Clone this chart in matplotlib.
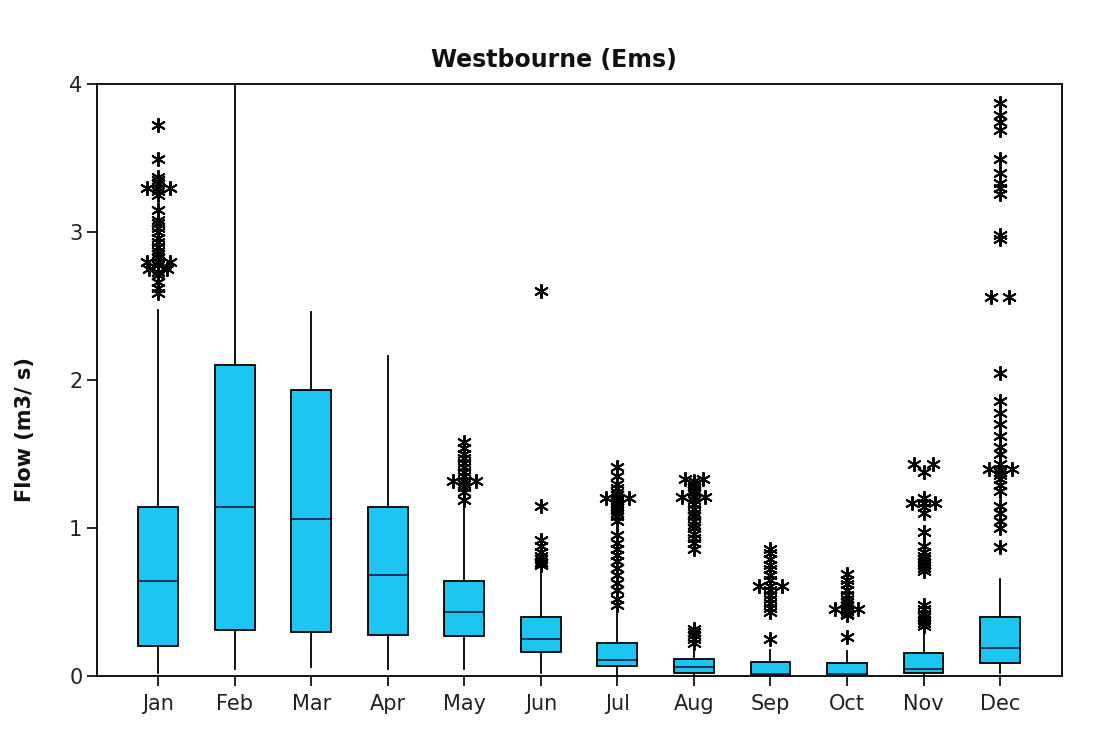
import matplotlib
matplotlib.use("Agg")
import matplotlib.pyplot as plt
import numpy as np

months = ["Jan", "Feb", "Mar", "Apr", "May", "Jun", "Jul", "Aug", "Sep", "Oct", "Nov", "Dec"]
whislo = [0.02, 0.05, 0.06, 0.05, 0.05, 0.02, 0.00, 0.00, 0.00, 0.00, 0.00, 0.02]
q1     = [0.20, 0.31, 0.30, 0.28, 0.27, 0.16, 0.07, 0.02, 0.005, 0.00, 0.02, 0.09]
med    = [0.64, 1.14, 1.06, 0.68, 0.43, 0.25, 0.11, 0.06, 0.01, 0.01, 0.05, 0.19]
q3     = [1.14, 2.10, 1.93, 1.14, 0.64, 0.40, 0.22, 0.115, 0.095, 0.09, 0.155, 0.40]
whishi = [2.47, 4.05, 2.46, 2.16, 1.17, 0.72, 0.45, 0.18, 0.175, 0.17, 0.32, 0.655]

outliers = [
    [2.59, 2.62, 2.66, 2.71, 2.73, 2.75, 2.75, 2.78, 2.80, 2.80, 2.80, 2.83, 2.85, 2.87,
     2.90, 2.93, 2.96, 3.00, 3.03, 3.06, 3.08, 3.15, 3.25, 3.28, 3.30, 3.30, 3.30, 3.33,
     3.35, 3.37, 3.49, 3.72],
    [],
    [],
    [],
    [1.19, 1.24, 1.28, 1.30, 1.32, 1.32, 1.32, 1.35, 1.38, 1.41, 1.44, 1.47, 1.50, 1.54,
     1.58],
    [0.75, 0.76, 0.77, 0.79, 0.81, 0.84, 0.88, 0.92, 1.15, 2.60],
    [0.48, 0.52, 0.58, 0.63, 0.68, 0.73, 0.78, 0.82, 0.86, 0.90, 0.95, 1.05, 1.08, 1.10,
     1.12, 1.14, 1.16, 1.18, 1.20, 1.20, 1.20, 1.22, 1.24, 1.27, 1.30, 1.35, 1.41],
    [0.22, 0.25, 0.28, 0.30, 0.32, 0.86, 0.90, 0.93, 0.96, 1.00, 1.02, 1.05, 1.08, 1.10,
     1.13, 1.16, 1.19, 1.21, 1.21, 1.21, 1.24, 1.26, 1.28, 1.30, 1.32, 1.33, 1.33],
    [0.25, 0.43, 0.46, 0.49, 0.52, 0.55, 0.58, 0.61, 0.61, 0.61, 0.65, 0.68, 0.72, 0.75,
     0.79, 0.83, 0.86],
    [0.26, 0.41, 0.42, 0.44, 0.45, 0.45, 0.45, 0.47, 0.48, 0.50, 0.52, 0.55, 0.58, 0.62,
     0.65, 0.69],
    [0.34, 0.36, 0.38, 0.40, 0.42, 0.45, 0.48, 0.71, 0.73, 0.75, 0.77, 0.79, 0.81, 0.84,
     0.88, 0.97, 1.10, 1.14, 1.17, 1.17, 1.17, 1.20, 1.38, 1.43, 1.43],
    [0.87, 1.00, 1.05, 1.10, 1.15, 1.25, 1.29, 1.33, 1.36, 1.38, 1.40, 1.40, 1.40, 1.43,
     1.50, 1.55, 1.62, 1.70, 1.78, 1.86, 2.05, 2.56, 2.56, 2.95, 2.98, 3.26, 3.30, 3.33,
     3.40, 3.49, 3.69, 3.74, 3.79, 3.87],
]

box_color = "#1DC6F1"

fig = plt.figure(figsize=(10.96, 7.33), dpi=100)
ax = fig.add_axes([0.0885, 0.0778, 0.8805, 0.8076])

positions = np.arange(1, len(months) + 1)
stats = []
for i in range(len(months)):
    stats.append(dict(med=med[i], q1=q1[i], q3=q3[i], whislo=whislo[i], whishi=whishi[i],
                      fliers=[], label=months[i]))

ax.bxp(stats, positions=positions, widths=0.52, patch_artist=True, showcaps=False,
       showfliers=False,
       boxprops=dict(facecolor=box_color, edgecolor="black", linewidth=1.3),
       medianprops=dict(color="#1a1a3a", linewidth=1.2),
       whiskerprops=dict(color="black", linewidth=1.3))

# outliers: identical values are placed side by side, symmetric about the box centre
thr = 0.004
for i, vals in enumerate(outliers):
    vals = sorted(vals)
    xs, ys = [], []
    j = 0
    while j < len(vals):
        n = 1
        while j + n < len(vals) and abs(vals[j + n] - vals[j]) < thr:
            n += 1
        step = 0.24 if n == 2 else 0.15
        offs = (np.arange(n) - (n - 1) / 2.0) * step
        for k in range(n):
            xs.append(positions[i] + offs[k])
            ys.append(vals[j + k])
        j += n
    ax.plot(xs, ys, linestyle="none", marker=(6, 2, 0), markersize=10.5,
            markeredgewidth=1.4, color="black", clip_on=False)

ax.set_xlim(0.2, 12.81)
ax.set_ylim(0, 4)
ax.set_yticks([0, 1, 2, 3, 4])
ax.set_xticks(positions)
ax.set_xticklabels(months)
ax.tick_params(axis="both", direction="out", length=7, width=1.2, labelsize=15,
               colors="black", labelcolor="#222222")
ax.tick_params(axis="x", pad=6)
for s in ax.spines.values():
    s.set_linewidth(1.3)
    s.set_color("black")

fig.text(0.505, 0.918, "Westbourne (Ems)", fontsize=17, fontweight="bold",
         ha="center", va="center", color="#111111")
ax.set_ylabel("Flow (m3/ s)", fontsize=15, fontweight="bold", color="#111111")
ax.yaxis.set_label_coords(-0.064, 0.417)

fig.savefig("out.png", dpi=100)
